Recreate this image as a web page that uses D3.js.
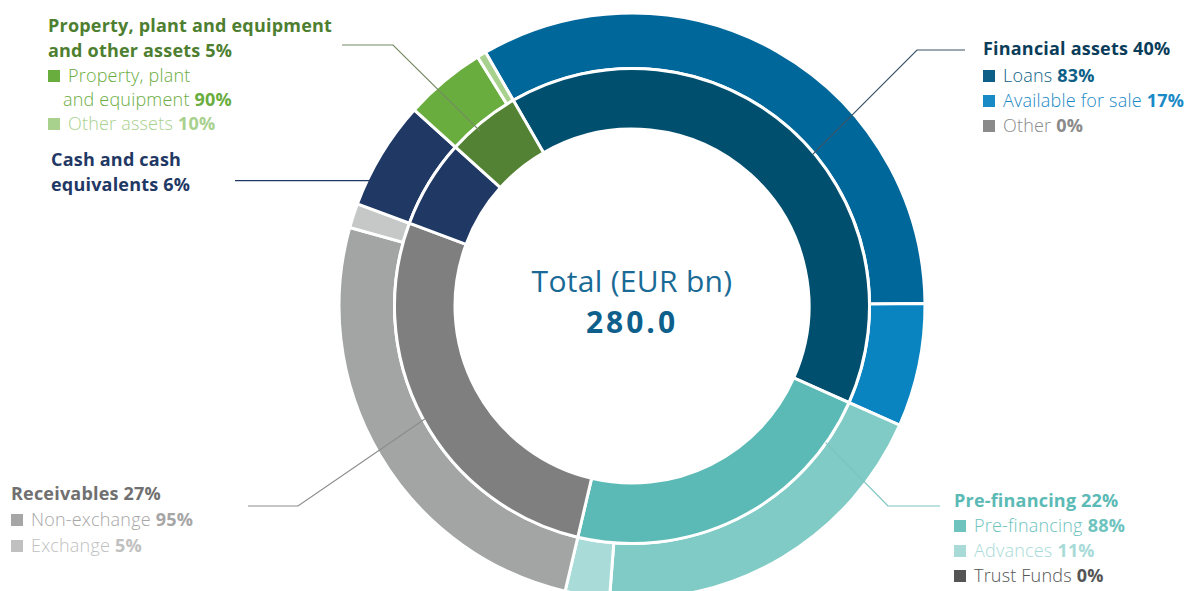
<!DOCTYPE html>
<html>
<head>
<meta charset="utf-8">
<script src="https://cdn.jsdelivr.net/npm/d3@7"></script>
<style>
  body { margin: 0; background: #fff; }
  text { font-family: "Open Sans", sans-serif; }
</style>
</head>
<body>
<div id="chart"></div>
<script>
// Main categories (inner ring), % of total
const groups = ["Financial assets", "Pre-financing", "Receivables", "Cash and cash equivalents", "Property, plant and equipment and other assets"];
const groupShares = [40, 22, 27, 6, 5];

// Breakdown of each category (outer ring), % of the category
const subLabels = [
  ["Loans", "Available for sale", "Other"],
  ["Pre-financing", "Advances", "Trust Funds"],
  ["Non-exchange", "Exchange"],
  ["Cash and cash equivalents"],
  ["Property, plant and equipment", "Other assets"]
];
const subShares = [
  [83, 17, 0],
  [88, 11, 0],
  [95, 5],
  [100],
  [90, 10]
];

const totalLabel = "Total (EUR bn)";
const totalValue = 280.0;

// Colours
const innerColors = ["#004f6e", "#5bbab5", "#7f7f7f", "#1f3864", "#548235"];
const outerColors = [
  ["#00679a", "#0a84c1", "#808080"],
  ["#80cbc5", "#a9dcd8", "#555555"],
  ["#a3a5a5", "#c6c7c7"],
  ["#1f3864"],
  ["#6aad3f", "#a9d18e"]
];
const legendColors = [
  ["#0d5f88", "#1a8ac6", "#8a8a8a"],
  ["#6ec3be", "#a8dbd8", "#555555"],
  ["#a6a6a6", "#c0c0c0"],
  ["#1f3864"],
  ["#6aad3f", "#a9d18e"]
];
const titleColors = ["#0b3d5a", "#5bbab5", "#707070", "#1f3864", "#4e7f31"];
const lineColors = ["#3b5366", "#7cc4bf", "#8c8c8c", "#1f3864", "#768b64"];

// Label layout (x, baseline of first title line, title lines, item rows)
const legendLayout = [
  { x: 983, y: 55, title: ["Financial assets 40%"], itemY: 82, step: 25 },
  { x: 954, y: 507, title: ["Pre-financing 22%"], itemY: 532, step: 25 },
  { x: 11, y: 500, title: ["Receivables 27%"], itemY: 526, step: 26 },
  { x: 51, y: 166, title: ["Cash and cash", "equivalents 6%"], itemY: null, step: 26 },
  { x: 48, y: 32, title: ["Property, plant and equipment", "and other assets 5%"], itemY: 82, step: 24 }
];
const wrapLabels = { "Property, plant and equipment": ["Property, plant", "and equipment"] };

// Leader lines: anchor on ring (angle in degrees, radius), then elbow and end
const leaders = [
  { angle: 50, r: 236, elbow: [917, 50], end: [965, 50] },
  { angle: 125.2, r: 237, elbow: [888, 506], end: [940, 506] },
  { angle: 241.4, r: 236, elbow: [298, 506], end: [248, 506] },
  { angle: 295.5, r: 291, elbow: null, end: [235, null] },
  { angle: 319, r: 232, elbow: [393, 45], end: [342, 45] }
];

const width = 1193, height = 591;
const cx = 632, cy = 306;
const innerR0 = 177, innerR1 = 237.5, outerR0 = 237.5, outerR1 = 293;
const rad = d => d * Math.PI / 180;

const svg = d3.select("#chart").append("svg")
  .attr("width", width)
  .attr("height", height);

const g = svg.append("g").attr("transform", `translate(${cx},${cy})`);

// Inner ring
const pie = d3.pie().sort(null).value(d => d)
  .startAngle(rad(-30)).endAngle(rad(330));
const innerArcs = pie(groupShares);

const innerArc = d3.arc().innerRadius(innerR0).outerRadius(innerR1);
const outerArc = d3.arc().innerRadius(outerR0).outerRadius(outerR1);

// Outer ring: split each category's angle by its breakdown
const outerData = [];
innerArcs.forEach((a, i) => {
  const subPie = d3.pie().sort(null).value(d => d)
    .startAngle(a.startAngle).endAngle(a.endAngle);
  subPie(subShares[i]).forEach((s, j) => {
    outerData.push({ arc: s, color: outerColors[i][j] });
  });
});

g.append("g").selectAll("path")
  .data(outerData.filter(d => d.arc.value > 0))
  .join("path")
  .attr("d", d => outerArc(d.arc))
  .attr("fill", d => d.color)
  .attr("stroke", "#fff")
  .attr("stroke-width", 3);

g.append("g").selectAll("path")
  .data(innerArcs)
  .join("path")
  .attr("d", innerArc)
  .attr("fill", (d, i) => innerColors[i])
  .attr("stroke", "#fff")
  .attr("stroke-width", 3);

// Leader lines
leaders.forEach((l, i) => {
  const p = d3.pointRadial(rad(l.angle), l.r);
  const start = [cx + p[0], cy + p[1]];
  const pts = [start];
  if (l.elbow) pts.push(l.elbow);
  pts.push([l.end[0], l.end[1] == null ? start[1] : l.end[1]]);
  svg.append("path")
    .attr("d", d3.line()(pts))
    .attr("fill", "none")
    .attr("stroke", lineColors[i])
    .attr("stroke-width", 1.2);
});

// Centre text
svg.append("text")
  .attr("x", cx).attr("y", 292)
  .attr("text-anchor", "middle")
  .attr("font-size", 30)
  .attr("letter-spacing", 0.3)
  .attr("fill", "#1a6a96")
  .text(totalLabel);

svg.append("text")
  .attr("x", cx).attr("y", 333)
  .attr("text-anchor", "middle")
  .attr("font-size", 30)
  .attr("font-weight", 700)
  .attr("letter-spacing", 3)
  .attr("fill", "#0e5f8c")
  .text(totalValue.toFixed(1));

// Category labels and breakdown legends
legendLayout.forEach((L, i) => {
  const lg = svg.append("g");
  L.title.forEach((t, k) => {
    lg.append("text")
      .attr("x", L.x)
      .attr("y", L.y + k * 25)
      .attr("font-size", 18)
      .attr("font-weight", 700)
      .attr("letter-spacing", 0.2)
      .attr("fill", titleColors[i])
      .text(t);
  });
  if (L.itemY == null) return;
  let y = L.itemY;
  subLabels[i].forEach((name, j) => {
    const col = legendColors[i][j];
    lg.append("rect")
      .attr("x", L.x)
      .attr("y", y - 12)
      .attr("width", 12)
      .attr("height", 12)
      .attr("fill", col);
    const lines = wrapLabels[name] || [name];
    lines.forEach((ln, k) => {
      const t = lg.append("text")
        .attr("x", k === 0 ? L.x + 20 : L.x + 15)
        .attr("y", y)
        .attr("font-size", 18)
        .attr("font-weight", 300)
        .attr("letter-spacing", 0.2)
        .attr("fill", col)
        .text(ln);
      if (k === lines.length - 1) {
        t.append("tspan")
          .attr("dx", 5)
          .attr("font-weight", 700)
          .text(subShares[i][j] + "%");
      }
      y += L.step;
    });
  });
});
</script>
</body>
</html>
